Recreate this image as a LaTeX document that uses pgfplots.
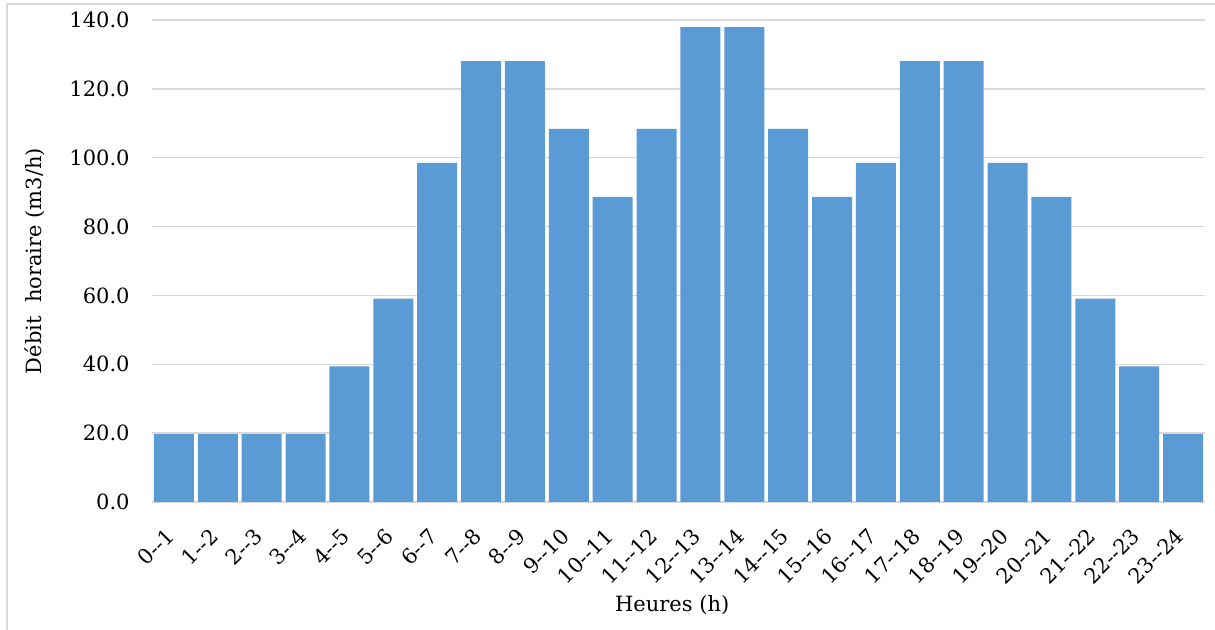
\documentclass[border=0pt]{standalone}
\usepackage{fontspec}
\setmainfont{DejaVu Serif}
\usepackage{pgfplots}
\pgfplotsset{compat=1.18}
\definecolor{barblue}{HTML}{5B9BD5}
\definecolor{gridgray}{HTML}{D9D9D9}
\begin{document}
\fontsize{10.5}{12.6}\selectfont
\begin{tikzpicture}
\useasboundingbox (-76pt,-64pt) rectangle (531.5pt,251pt);
\draw[gridgray, line width=0.75pt] (-72.5pt,-70pt) -- (-72.5pt,249pt) -- (540pt,249pt);
\begin{axis}[
  at={(0,0)}, anchor=south west,
  scale only axis, width=526.5pt, height=241pt,
  xmin=-0.5, xmax=23.5, ymin=0, ymax=140,
  ytick={0,20,...,140},
  /pgf/number format/.cd, fixed, fixed zerofill, precision=1, assume math mode=true,
  /pgfplots/.cd,
  xtick={0,...,23},
  xticklabels={0-{}-1,1-{}-2,2-{}-3,3-{}-4,4-{}-5,5-{}-6,6-{}-7,7-{}-8,8-{}-9,9-{}-10,10-{}-11,11-{}-12,12-{}-13,13-{}-14,14-{}-15,15-{}-16,16-{}-17,17-{}-18,18-{}-19,19-{}-20,20-{}-21,21-{}-22,22-{}-23,23-{}-24},
  xticklabel style={rotate=45, anchor=north east, inner sep=0pt, xshift=-3.2pt, yshift=3.2pt},
  xticklabel shift=12pt,
  yticklabel style={inner sep=0pt},
  yticklabel shift=11pt,
  major tick length=0pt,
  ymajorgrids, grid style={gridgray, line width=0.75pt},
  separate axis lines,
  axis x line*=bottom, axis y line*=left,
  y axis line style={draw=none},
  x axis line style={draw=gridgray, line width=1pt},
  every axis y label/.style={at={(axis description cs:-0.1111,0.5)}, rotate=90, anchor=center},
  every axis x label/.style={at={(axis description cs:0.494,-0.2137)}, anchor=center},
  ylabel={Débit\ \ horaire (m3/h)},
  xlabel={Heures (h)},
  ybar, bar width=0.91,
]
\addplot[fill=barblue, draw=none] coordinates {
(0,19.7) (1,19.7) (2,19.7) (3,19.7) (4,39.4) (5,59.1) (6,98.5) (7,128.05)
(8,128.05) (9,108.35) (10,88.65) (11,108.35) (12,137.9) (13,137.9) (14,108.35) (15,88.65)
(16,98.5) (17,128.05) (18,128.05) (19,98.5) (20,88.65) (21,59.1) (22,39.4) (23,19.7)
};
\end{axis}
\end{tikzpicture}
\end{document}
